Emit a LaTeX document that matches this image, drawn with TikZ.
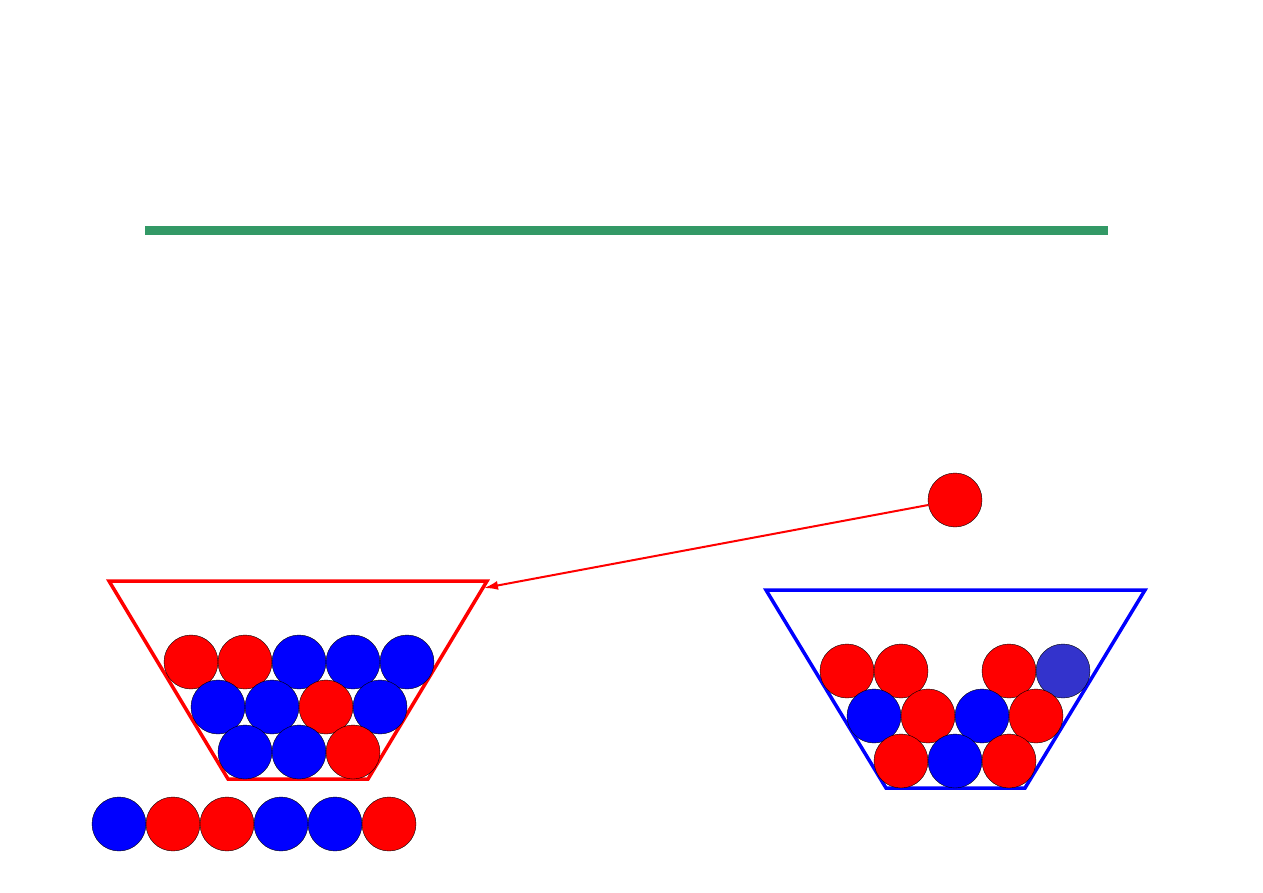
\documentclass[tikz,border=0pt]{standalone}
\usetikzlibrary{arrows.meta}
\definecolor{barGreen}{HTML}{339966}
\definecolor{ballRed}{HTML}{FF0000}
\definecolor{ballBlue}{HTML}{0000FF}
\definecolor{ballPurple}{HTML}{3333CC}
\tikzset{
  ball/.style={circle, minimum size=54pt, inner sep=0pt, draw=black, line width=0.4pt},
  rb/.style={ball, fill=ballRed},
  bb/.style={ball, fill=ballBlue},
  pb/.style={ball, fill=ballPurple},
  redbowl/.style={draw=ballRed, line width=3.5pt, line join=miter},
  bluebowl/.style={draw=ballBlue, line width=3.5pt, line join=miter},
  link/.style={draw=ballRed, line width=2pt, -{Latex[length=14pt,width=9pt]}}
}
\begin{document}
\begin{tikzpicture}[x=1pt,y=-1pt]
\useasboundingbox (0,0) rectangle (1263,893);
% green bar
\fill[barGreen] (145,226) rectangle (1108,235);
% left bowl
\draw[redbowl] (109,581) -- (487,581) -- (368,779) -- (228,779) -- cycle;
\node[rb] (l11) at (191,662) {};
\node[rb] (l12) at (245,662) {};
\node[bb] (l13) at (299,662) {};
\node[bb] (l14) at (353,662) {};
\node[bb] (l15) at (407,662) {};
\node[bb] (l21) at (218,707) {};
\node[bb] (l22) at (272,707) {};
\node[rb] (l23) at (326,707) {};
\node[bb] (l24) at (380,707) {};
\node[bb] (l31) at (245,752) {};
\node[bb] (l32) at (299,752) {};
\node[rb] (l33) at (353,752) {};
% bottom row
\node[bb] (b1) at (119,824) {};
\node[rb] (b2) at (173,824) {};
\node[rb] (b3) at (227,824) {};
\node[bb] (b4) at (281,824) {};
\node[bb] (b5) at (335,824) {};
\node[rb] (b6) at (389,824) {};
% right bowl
\draw[bluebowl] (766,590) -- (1145,590) -- (1025,788) -- (886,788) -- cycle;
\node[rb] (r11) at (847,671) {};
\node[rb] (r12) at (901,671) {};
\node[rb] (r14) at (1009,671) {};
\node[pb] (r15) at (1063,671) {};
\node[bb] (r21) at (874,716) {};
\node[rb] (r22) at (928,716) {};
\node[bb] (r23) at (982,716) {};
\node[rb] (r24) at (1036,716) {};
\node[rb] (r31) at (901,761) {};
\node[bb] (r32) at (955,761) {};
\node[rb] (r33) at (1009,761) {};
% single ball and arrow
\node[rb] (single) at (955,500) {};
\coordinate (target) at (484,588);
\draw[link] (single) -- (target);
\end{tikzpicture}
\end{document}
